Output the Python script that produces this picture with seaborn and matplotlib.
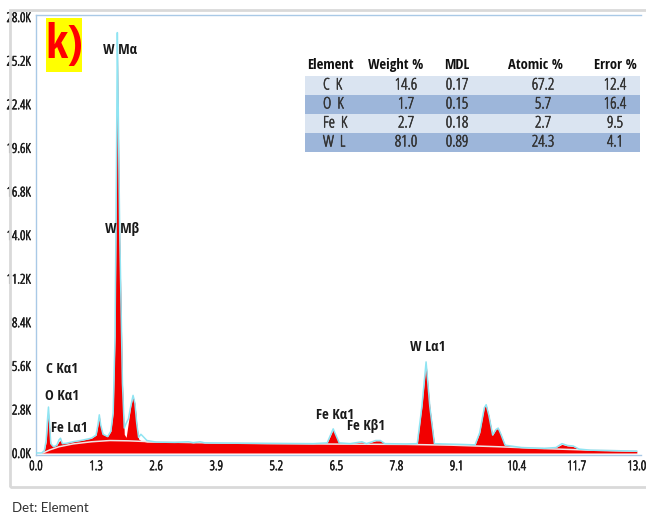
import numpy as np
import pandas as pd
import matplotlib
matplotlib.use("Agg")
import matplotlib.pyplot as plt
from matplotlib.patches import Rectangle
from matplotlib import font_manager as fm
import matplotlib.patheffects as pe
import seaborn as sns

# ---------------- data ----------------
energy_kev = [0.00, 0.12, 0.18, 0.22, 0.25, 0.27, 0.29, 0.32, 0.38, 0.45, 0.50, 0.53, 0.57,
              0.65, 0.80, 1.00, 1.20, 1.30, 1.34, 1.37, 1.40, 1.45, 1.55, 1.62, 1.67, 1.71,
              1.74, 1.76, 1.78, 1.81, 1.84, 1.87, 1.91, 1.95, 2.00, 2.05, 2.10, 2.14, 2.18,
              2.22, 2.27, 2.32, 2.40, 2.60, 3.00, 3.30, 3.40, 3.55, 3.65, 4.00, 5.00, 6.00,
              6.30, 6.43, 6.56, 6.80, 7.05, 7.15, 7.35, 7.45, 7.55, 8.00, 8.25, 8.35, 8.44,
              8.52, 8.62, 8.80, 9.20, 9.50, 9.60, 9.70, 9.74, 9.80, 9.88, 9.95, 10.00, 10.06,
              10.15, 10.50, 11.00, 11.25, 11.38, 11.50, 11.62, 11.75, 12.00, 12.50, 13.00]
measured_k = [0.00, 0.00, 0.15, 0.80, 2.20, 2.95, 2.00, 0.60, 0.40, 0.50, 0.85, 0.95, 0.60,
              0.62, 0.72, 0.82, 0.95, 1.15, 1.80, 2.45, 1.80, 1.20, 1.05, 1.40, 2.60, 7.50,
              18.0, 27.0, 22.0, 14.5, 9.50, 4.50, 1.60, 1.90, 2.20, 3.00, 3.70, 3.20, 1.90,
              1.00, 1.20, 1.05, 0.80, 0.70, 0.68, 0.72, 0.66, 0.72, 0.65, 0.64, 0.62, 0.60,
              0.65, 1.55, 0.65, 0.60, 0.72, 0.60, 0.80, 0.80, 0.60, 0.58, 0.60, 3.00, 5.85,
              3.00, 0.60, 0.58, 0.55, 0.52, 1.30, 2.90, 3.10, 2.40, 1.15, 1.50, 1.60, 1.20,
              0.50, 0.35, 0.30, 0.35, 0.60, 0.48, 0.45, 0.25, 0.18, 0.15, 0.12]
fitted_k = [0.00, 0.00, 0.15, 0.70, 2.00, 2.60, 1.80, 0.55, 0.40, 0.50, 0.75, 0.80, 0.60,
            0.62, 0.72, 0.82, 0.95, 1.15, 1.80, 2.40, 1.70, 1.20, 1.05, 1.40, 2.60, 7.50,
            17.5, 26.3, 21.5, 14.0, 9.50, 4.50, 1.20, 1.00, 2.00, 3.00, 3.65, 3.20, 1.90,
            0.90, 0.80, 0.75, 0.70, 0.70, 0.68, 0.72, 0.66, 0.72, 0.65, 0.64, 0.62, 0.60,
            0.65, 1.50, 0.65, 0.60, 0.70, 0.60, 0.78, 0.78, 0.60, 0.58, 0.60, 3.00, 5.80,
            3.00, 0.60, 0.58, 0.55, 0.52, 1.30, 2.95, 3.10, 2.40, 1.15, 1.50, 1.60, 1.20,
            0.50, 0.35, 0.30, 0.35, 0.55, 0.45, 0.42, 0.25, 0.18, 0.15, 0.12]

bg_kev = [0.15, 0.30, 0.50, 0.80, 1.20, 1.60, 2.00, 2.50, 3.50, 5.00, 6.50, 8.00, 9.00,
          10.0, 11.0, 12.0, 13.0]
bg_k = [0.00, 0.20, 0.40, 0.58, 0.72, 0.80, 0.78, 0.72, 0.66, 0.60, 0.57, 0.55, 0.50,
        0.40, 0.28, 0.18, 0.12]

x_ticks = [0.0, 1.3, 2.6, 3.9, 5.2, 6.5, 7.8, 9.1, 10.4, 11.7, 13.0]
y_ticks = [0.0, 2.8, 5.6, 8.4, 11.2, 14.0, 16.8, 19.6, 22.4, 25.2, 28.0]

peak_labels = ["W Mα", "W Mβ", "C Kα1", "O Kα1", "Fe Lα1", "Fe Kα1", "Fe Kβ1", "W Lα1"]
peak_label_x = [1.82, 1.86, 0.57, 0.56, 0.73, 6.47, 7.14, 8.48]
peak_label_y = [25.6, 14.1, 5.14, 3.4, 1.35, 2.18, 1.48, 6.55]

table_cols = ["Element", "Weight %", "MDL", "Atomic %", "Error %"]
elements = ["C K", "O K", "Fe K", "W L"]
weight_pct = ["14.6", "1.7", "2.7", "81.0"]
mdl = ["0.17", "0.15", "0.18", "0.89"]
atomic_pct = ["67.2", "5.7", "2.7", "24.3"]
error_pct = ["12.4", "16.4", "9.5", "4.1"]

# ---------------- style ----------------
sns.set_style("white")
plt.rcParams["font.family"] = ["Open Sans", "DejaVu Sans"]

def cond_light(size):
    return fm.FontProperties(family=["Open Sans", "DejaVu Sans"], stretch="condensed",
                             weight="normal", size=size)

_bold_probe = fm.FontProperties(family=["Open Sans Condensed", "DejaVu Sans"],
                                stretch="condensed", weight="bold", size=10)
_bold_path = fm.findfont(_bold_probe)
_bold_is_opensans = "OpenSans" in _bold_path.replace(" ", "")

def cond_bold(size_os, size_dv):
    return fm.FontProperties(fname=_bold_path, size=size_os if _bold_is_opensans else size_dv)

def thick(lw, col):
    return [pe.withStroke(linewidth=lw, foreground=col)]

W, H = 646, 515
fig = plt.figure(figsize=(W / 100, H / 100), dpi=100)

def fx(px):
    return px / W

def fy(py):
    return 1 - py / H

# outer gray frame
fig.add_artist(Rectangle((fx(10), fy(487)), fx(660) - fx(10), fy(10) - fy(487),
                         transform=fig.transFigure, fill=False, edgecolor="#d9d9d9", lw=2))

ax = fig.add_axes([fx(36), fy(455), fx(641) - fx(36), fy(15) - fy(455)])
ax.set_xlim(0, 13.09)
ax.set_ylim(-0.13, 28.13)

df = pd.DataFrame({"E": energy_kev, "meas": measured_k, "fit": fitted_k})
bg = pd.DataFrame({"E": bg_kev, "bg": bg_k})

red = "#f20000"
ax.fill_between(df["E"], 0, df["fit"], color=red, lw=0, zorder=2)
sns.lineplot(data=bg, x="E", y="bg", ax=ax, color="#f1e4e4", lw=1.1, zorder=3)
sns.lineplot(data=df, x="E", y="meas", ax=ax, color="#8fe4f2", lw=1.1, zorder=4,
             estimator=None, sort=False)

ax.set_xlabel("")
ax.set_ylabel("")
ax.set_xticks(x_ticks)
ax.set_xticklabels([f"{v:.1f}" for v in x_ticks])
ax.set_yticks(y_ticks)
ax.set_yticklabels([f"{v:.1f}K" for v in y_ticks])
ax.tick_params(axis="both", direction="out", length=2.5, width=0.8, color="#8aaecf",
               labelcolor="#222222", pad=1.2)
for lbl in ax.get_xticklabels() + ax.get_yticklabels():
    lbl.set_fontproperties(cond_light(9.6))
    lbl.set_path_effects(thick(0.5, "#222222"))
for s in ["left", "top", "bottom"]:
    ax.spines[s].set_color("#a9c9e6")
    ax.spines[s].set_linewidth(1.0)
ax.spines["right"].set_visible(False)

for lab, lx, ly in zip(peak_labels, peak_label_x, peak_label_y):
    ax.text(lx, ly, lab, ha="center", va="baseline", color="#1a1a1a",
            fontproperties=cond_bold(10.5, 8.6), zorder=6)

# k) label
fig.add_artist(Rectangle((fx(46), fy(72)), fx(82) - fx(46), fy(18) - fy(72),
                         transform=fig.transFigure, fc="#ffff00", ec="none"))
fig.text(fx(64), fy(46), "k)", ha="center", va="center", color="#ff0000",
         fontproperties=cond_bold(34, 27))

# table
t_left, t_right = 305, 640
row_top = [76, 95, 114, 133]
row_h = 19
row_colors = ["#dae4f1", "#9db6da", "#dae4f1", "#9db6da"]
col_x = [330, 396, 457, 535, 615]
for i in range(4):
    fig.add_artist(Rectangle((fx(t_left), fy(row_top[i] + row_h)), fx(t_right) - fx(t_left),
                             fy(row_top[i]) - fy(row_top[i] + row_h),
                             transform=fig.transFigure, fc=row_colors[i], ec="none"))
for j, c in enumerate(table_cols):
    fig.text(fx(col_x[j]), fy(65), c, ha="center", va="center", color="#111111",
             fontproperties=cond_bold(10.5, 8.8))
val_x = [323, 406, 457, 543, 615]
rows = list(zip(elements, weight_pct, mdl, atomic_pct, error_pct))
for i, r in enumerate(rows):
    yc = row_top[i] + row_h / 2
    for j, v in enumerate(r):
        txt = v.replace(" ", "  ") if j == 0 else v
        fig.text(fx(val_x[j]), fy(yc), txt, ha="left" if j == 0 else "center",
                 va="center", color="#333333", fontproperties=cond_light(11.5),
                 path_effects=thick(0.4, "#333333"))

fig.text(fx(12), fy(508), "Det: Element", ha="left", va="center", fontsize=9.5,
         color="#333333", family=["Lato", "DejaVu Sans"])

fig.savefig("out.png", dpi=100)
